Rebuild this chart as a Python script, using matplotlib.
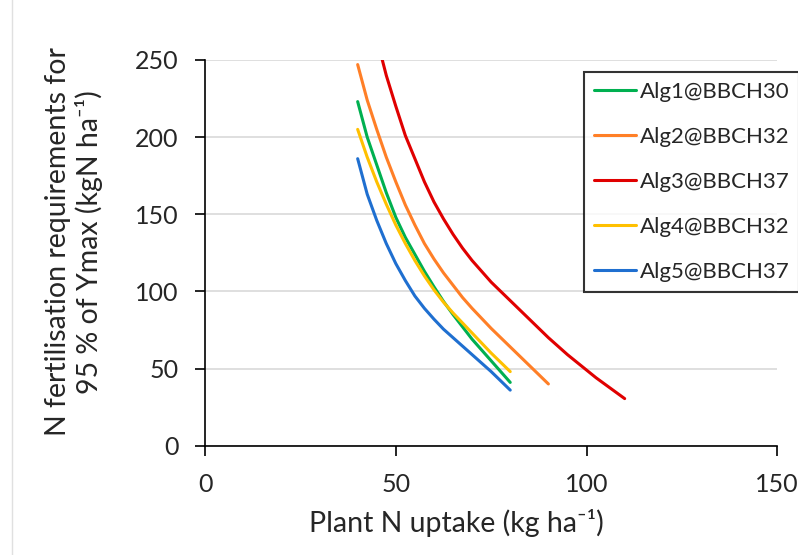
import matplotlib
matplotlib.use("Agg")
import matplotlib.pyplot as plt

plt.rcParams['font.family'] = ['Lato', 'DejaVu Sans']

# curves: plant N uptake vs N requirement
alg1_x = [40, 42.5, 45, 47.5, 50, 52.5, 55, 57.5, 60, 62.5, 65, 67.5, 70, 72.5, 75, 77.5, 80]
alg1_y = [223, 200, 182, 164, 148, 135, 124, 113, 103, 93.5, 85, 77, 69, 62, 55, 48, 41]

alg2_x = [40, 42.5, 45, 47.5, 50, 52.5, 55, 57.5, 60, 62.5, 65, 67.5, 70, 72.5, 75, 77.5,
          80, 82.5, 85, 87.5, 90]
alg2_y = [247, 224, 205, 187, 171, 156, 143, 131, 121, 112, 104, 96, 89, 82.5, 76, 70,
          64, 58, 52, 46, 40]

alg3_x = [45, 47.5, 50, 52.5, 55, 57.5, 60, 62.5, 65, 67.5, 70, 72.5, 75, 77.5, 80, 82.5,
          85, 87.5, 90, 92.5, 95, 97.5, 100, 102.5, 105, 107.5, 110]
alg3_y = [264, 240, 220, 201, 186, 171, 158, 147, 137, 128, 120, 113, 106, 100, 94, 88,
          82, 76, 70, 64.5, 59, 54, 49, 44, 39.5, 35, 30.5]

alg4_x = [40, 42.5, 45, 47.5, 50, 52.5, 55, 57.5, 60, 62.5, 65, 67.5, 70, 72.5, 75, 77.5, 80]
alg4_y = [205, 187, 171, 156.5, 143, 131, 120, 110, 101, 93, 86, 79.5, 73, 66.5, 60, 54, 48]

alg5_x = [40, 42.5, 45, 47.5, 50, 52.5, 55, 57.5, 60, 62.5, 65, 67.5, 70, 72.5, 75, 77.5, 80]
alg5_y = [186, 163, 146, 131, 118, 107, 97, 89, 82, 75.5, 70, 64.5, 59, 53.5, 48, 42, 36]

labels = ['Alg1@BBCH30', 'Alg2@BBCH32', 'Alg3@BBCH37', 'Alg4@BBCH32', 'Alg5@BBCH37']
colors = ['#00B050', '#FF7F27', '#E00000', '#FFC000', '#1F6FD0']

x_ticks = [0, 50, 100, 150]
y_ticks = [0, 50, 100, 150, 200, 250]

txt = '#262626'

fig = plt.figure(figsize=(7.98, 5.55), dpi=100)
ax = fig.add_axes([0.257, 0.197, 0.717, 0.695])

series = [(alg1_x, alg1_y), (alg2_x, alg2_y), (alg3_x, alg3_y),
          (alg4_x, alg4_y), (alg5_x, alg5_y)]
for (xs, ys), lab, col in zip(series, labels, colors):
    ax.plot(xs, ys, color=col, lw=2.2, label=lab, solid_capstyle='round',
            solid_joinstyle='round')

ax.set_xlim(0, 150)
ax.set_ylim(0, 250)
ax.set_xticks(x_ticks)
ax.set_yticks(y_ticks)
ax.grid(axis='y', color='#d9d9d9', lw=1.2)
ax.set_axisbelow(True)
for s in ['top', 'right']:
    ax.spines[s].set_visible(False)
for s in ['left', 'bottom']:
    ax.spines[s].set_linewidth(1.2)
    ax.spines[s].set_color('black')
ax.tick_params(axis='both', labelsize=18, length=7, width=1.2, color='black',
               labelcolor=txt)
ax.tick_params(axis='x', pad=13)
ax.tick_params(axis='y', pad=12)

ax.set_xlabel('Plant N uptake (kg ha\u207b\u00b9)', fontsize=20.5, color=txt)
ax.xaxis.set_label_coords(0.439, -0.165)
ax.set_ylabel('N fertilisation requirements for\n95 % of Ymax (kgN ha\u207b\u00b9)',
              fontsize=20.5, linespacing=1.2, color=txt)
ax.yaxis.set_label_coords(-0.178, 0.528)

leg = ax.legend(loc='upper left', bbox_to_anchor=(584 / 798, 1 - 72 / 555),
                bbox_transform=fig.transFigure, fontsize=16, frameon=True,
                fancybox=False, handlelength=1.9, handletextpad=0.15,
                labelspacing=1.12, borderpad=0.45, borderaxespad=0)
leg.get_frame().set_edgecolor('black')
leg.get_frame().set_linewidth(1.5)
for t in leg.get_texts():
    t.set_color(txt)

# faint outline of the chart area on the left
fig.add_artist(plt.Line2D([12 / 798, 12 / 798], [0, 1], color='#e0e0e0', lw=1,
                          transform=fig.transFigure))

plt.savefig('out.png', dpi=100)
